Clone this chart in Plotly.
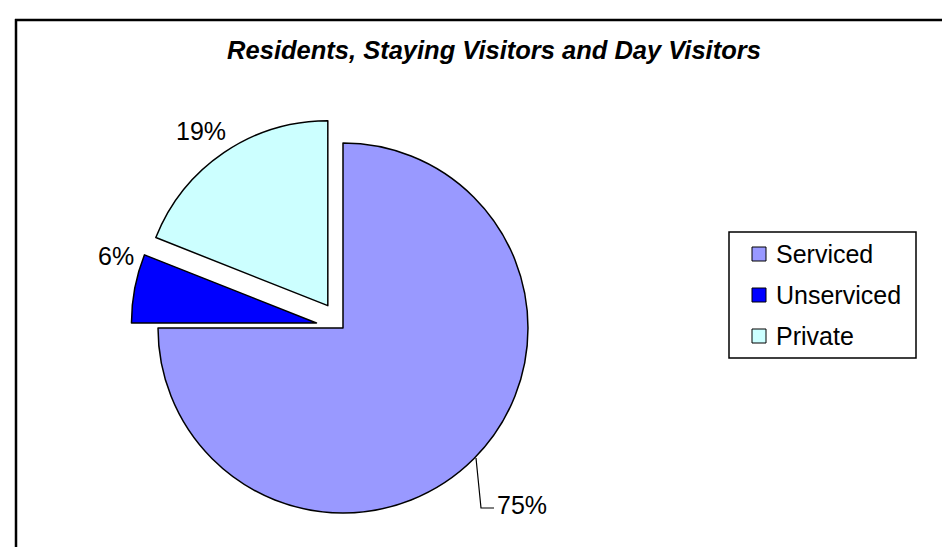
import plotly.graph_objects as go

categories = ["Serviced", "Unserviced", "Private"]
values = [75, 6, 19]
colors = ["#9999FF", "#0000FF", "#CCFFFF"]
pulls = [0, 0.146, 0.146]
label_texts = [f"{v}%" for v in values]
title_text = "Residents, Staying Visitors and Day Visitors"

W, H = 950, 547
FONT = "Arial, Liberation Sans, sans-serif"

def px(x):
    return x / W

def py(y):
    return 1 - y / H

fig = go.Figure(go.Pie(
    labels=categories,
    values=values,
    sort=False,
    direction="clockwise",
    rotation=0,
    pull=pulls,
    marker=dict(colors=colors, line=dict(color="black", width=1.5)),
    textinfo="none",
    showlegend=False,
    domain=dict(x=[px(335 - 212), px(335 + 212)], y=[py(320 + 212), py(320 - 212)]),
))

# percentage labels
label_pos = [(514, 497), (108, 248), (193, 123)]
annotations = []
for txt, (lx, ly) in zip(label_texts, label_pos):
    annotations.append(dict(text=txt, x=px(lx), y=py(ly), xref="paper", yref="paper",
                            showarrow=False, xanchor="center", yanchor="middle",
                            font=dict(family=FONT, size=25, color="black")))

shapes = [
    # frame (top and left visible)
    dict(type="line", xref="paper", yref="paper", x0=px(7), y0=py(12), x1=px(960), y1=py(12),
         line=dict(color="black", width=2.5)),
    dict(type="line", xref="paper", yref="paper", x0=px(8), y0=py(11), x1=px(8), y1=py(560),
         line=dict(color="black", width=2.5)),
    # leader line for 75%
    dict(type="path", xref="paper", yref="paper",
         path=f"M {px(468)} {py(450)} L {px(473)} {py(500)} L {px(486)} {py(500)}",
         line=dict(color="black", width=1.2)),
    # legend box
    dict(type="rect", xref="paper", yref="paper", x0=px(721), y0=py(350), x1=px(908), y1=py(224),
         line=dict(color="black", width=1.5), fillcolor="white", layer="below"),
]

# legend entries
legend_y = [246, 287, 328]
for name, col, ly in zip(categories, colors, legend_y):
    shapes.append(dict(type="rect", xref="paper", yref="paper",
                       x0=px(744), x1=px(758), y0=py(ly + 7), y1=py(ly - 7),
                       fillcolor=col, line=dict(color="black", width=1)))
    annotations.append(dict(text=name, x=px(766), y=py(ly), xref="paper", yref="paper",
                            showarrow=False, xanchor="left", yanchor="middle",
                            font=dict(family=FONT, size=25, color="black")))

fig.update_layout(
    width=W, height=H,
    margin=dict(l=0, r=0, t=0, b=0),
    paper_bgcolor="white",
    plot_bgcolor="white",
    title=dict(text=f"<b><i>{title_text}</i></b>",
               x=px(486), xanchor="center", y=py(42), yanchor="middle",
               font=dict(family=FONT, size=25.5, color="black")),
    annotations=annotations,
    shapes=shapes,
    showlegend=False,
)

fig.write_html("out.html")
